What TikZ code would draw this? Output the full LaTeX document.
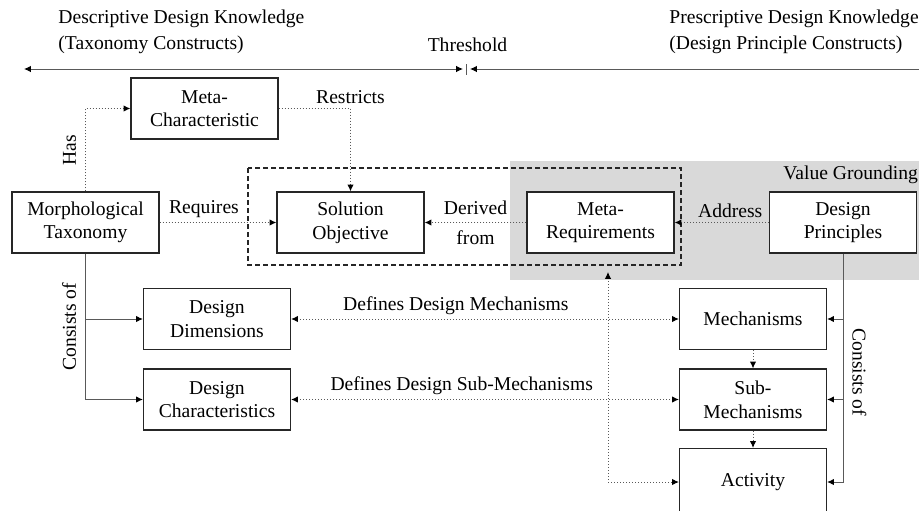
\documentclass[tikz,border=0pt]{standalone}
\usepackage{fontspec}
\setmainfont{Liberation Serif}
\usepackage{tikz}
\usetikzlibrary{arrows.meta, positioning, calc}

\begin{document}
\begin{tikzpicture}[
    x=0.5pt, y=-0.5pt,
    font=\fontsize{9.8}{11.8}\selectfont,
    kotak/.style={draw=black!85, fill=white, line width=0.6pt, align=center,
                  minimum height=30.5pt, minimum width=73.5pt, inner sep=1pt},
    panah/.style={-{Latex[length=3.4pt,width=3.2pt,black]}, draw=black!65, line width=0.5pt},
    titik/.style={panah, densely dotted},
    duaarah/.style={titik, {Latex[length=3.4pt,width=3.2pt,black]}-{Latex[length=3.4pt,width=3.2pt,black]}},
    ket/.style={align=center, inner sep=2pt, text=black},
    ketv/.style={ket, anchor=south, inner sep=4.5pt},
    judul/.style={anchor=west, align=left, inner sep=0pt, font=\fontsize{9.8}{13}\selectfont}
  ]
    \useasboundingbox (0,0) rectangle (919,510);

    % latar nilai dan batas tujuan
    \fill[black!15] (510,161) rectangle (919,280);
    \draw[black!85, line width=0.6pt, dash pattern=on 2.5pt off 1.5pt]
      (248,168) rectangle (681,265);
    \node[anchor=west, inner sep=0pt] (nilai) at (783,175) {Value Grounding};

    % judul dan ambang
    \node[judul] (deskriptif) at (58,32)
      {Descriptive Design Knowledge\\(Taxonomy Constructs)};
    \node[judul] (preskriptif) at (669,32)
      {Prescriptive Design Knowledge\\(Design Principle Constructs)};
    \node (ambang) at (467.5,45) {Threshold};
    \coordinate (kiri) at (24,69);
    \coordinate (ambangki) at (463,69);
    \coordinate (ambangka) at (470,69);
    \coordinate (kanan) at (919,69);
    \draw[panah, -] (466,64) -- (466,75);
    \draw[panah, {Latex[length=3.4pt,width=3.2pt,black]}-{Latex[length=3.4pt,width=3.2pt,black]}]
      (kiri) -- (ambangki);
    \draw[panah] (kanan) -- (ambangka);

    % kotak
    \node[kotak] (metakar) at (204.5,108.5) {Meta-\\Characteristic};
    \node[kotak] (taksonomi) at (85.5,222.5) {Morphological\\Taxonomy};
    \node[kotak] (solusi) at (350.5,222.5) {Solution\\Objective};
    \node[kotak] (metareq) at (600.5,222.5) {Meta-\\Requirements};
    \node[kotak] (prinsip) at (843,222.5) {Design\\Principles};
    \node[kotak] (dimensi) at (217,319) {Design\\Dimensions};
    \node[kotak] (karakter) at (217,399.5) {Design\\Characteristics};
    \node[kotak] (mekanisme) at (753,319) {Mechanisms};
    \node[kotak] (submek) at (753,399.5) {Sub-\\Mechanisms};
    \node[kotak, minimum height=33.5pt] (aktivitas) at (753,482) {Activity};
    \coordinate (ujung) at (608,272);

    % hubungan
    \draw[titik] (taksonomi.north) |- node[pos=0.25, rotate=90, ketv] {Has} (metakar.west);
    \draw[titik] (metakar.east) -| node[pos=0.5, above, ket] {Restricts} (solusi.north);
    \draw[titik] (taksonomi.east) -- node[pos=0.38, above, ket] {Requires} (solusi.west);
    \draw[titik] (metareq.west) -- node[midway, ket] {Derived\\[3pt]from} (solusi.east);
    \draw[titik] (prinsip.west) -- node[pos=0.41, above, ket] {Address} (metareq.east);

    \draw[panah] (taksonomi.south) |- node[pos=0.25, rotate=90, ketv] {Consists of} (karakter.west);
    \draw[panah] (taksonomi.south |- dimensi.west) -- (dimensi.west);
    \draw[panah] (prinsip.south) |- node[pos=0.26, rotate=-90, ketv] {Consists of} (aktivitas.east);
    \draw[panah] (prinsip.south |- mekanisme.east) -- (mekanisme.east);
    \draw[panah] (prinsip.south |- submek.east) -- (submek.east);

    \draw[duaarah] (dimensi.east) -- node[pos=0.425, above, ket] {Defines Design Mechanisms} (mekanisme.west);
    \draw[duaarah] (karakter.east) -- node[pos=0.44, above, ket] {Defines Design Sub-Mechanisms} (submek.west);
    \draw[duaarah] (ujung) |- (aktivitas.west);
    \draw[titik] (mekanisme) -- (submek);
    \draw[titik] (submek) -- (aktivitas);
  \end{tikzpicture}
\end{document}
